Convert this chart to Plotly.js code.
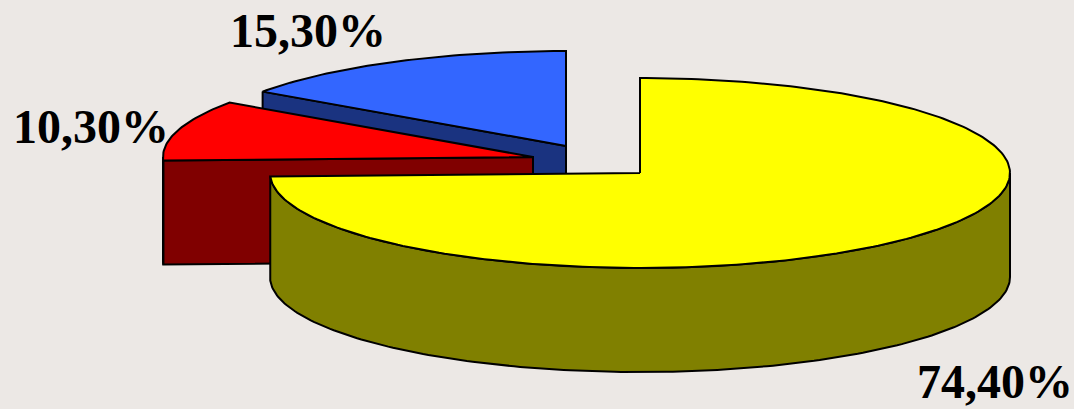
<!DOCTYPE html>
<html>
<head>
<meta charset="utf-8">
<script src="https://cdn.plot.ly/plotly-3.0.1.min.js"></script>
<style>html,body{margin:0;padding:0;background:#ECE8E5;overflow:hidden}#chart{width:1074px;height:409px}</style>
</head>
<body>
<div id="chart"></div>
<script>
// Data
const categories = ["yellow", "red", "blue"];
const shares = [74.4, 10.3, 15.3];

// Styles
const topColors = ["#FFFF00", "#FF0000", "#3366FF"];
const sideColors = ["#808000", "#800000", "#1A3380"];
const background = "#ECE8E5";

// Projection of the exploded 3D pie (in plot units)
const pieCentersX = [640, 533, 566];
const pieCentersY = [173, 157, 146];
const radiusX = 370, radiusY = 95, depth = 104;
const labelX = [915, 11, 228];
const labelY = [381, 126, 30];

function pt(i, turn, dz) {
  const a = turn * 2 * Math.PI;
  return [pieCentersX[i] + radiusX * Math.sin(a),
          pieCentersY[i] - radiusY * Math.cos(a) + (dz || 0)];
}
function arc(i, from, to, dz) {
  const out = [], n = Math.max(2, Math.ceil(Math.abs(to - from) * 360));
  for (let k = 0; k <= n; k++) out.push(pt(i, from + (to - from) * k / n, dz));
  return out;
}
function poly(points, fill) {
  const closed = points.concat([points[0]]);
  return {
    type: "scatter", mode: "lines", fill: "toself", fillcolor: fill,
    x: closed.map(p => p[0]), y: closed.map(p => p[1]),
    line: {color: "#000000", width: 2, shape: "linear"},
    hoverinfo: "skip", showlegend: false
  };
}

// cumulative start / end of each slice, clockwise from 12 o'clock
const total = shares.reduce((a, b) => a + b, 0);
const starts = [], ends = [];
let run = 0;
shares.forEach((v, i) => { starts[i] = run; run += v / total; ends[i] = run; });

const traces = [];
[2, 1, 0].forEach(i => {
  const c = [pieCentersX[i], pieCentersY[i]];
  const c2 = [c[0], c[1] + depth];
  // cut face at the start of the slice, which faces the viewer
  if (i !== 0) {
    traces.push(poly([pt(i, starts[i]), c, c2, pt(i, starts[i], depth)], sideColors[i]));
  }
  // outer wall: the part of the rim on the front half
  const from = Math.max(starts[i], 0.25), to = Math.min(ends[i], 0.75);
  if (to > from) {
    traces.push(poly(arc(i, from, to, 0).concat(arc(i, to, from, depth)), sideColors[i]));
  }
  // top
  traces.push(poly([c].concat(arc(i, starts[i], ends[i], 0)), topColors[i]));
});

const annotations = shares.map((v, i) => ({
  x: labelX[i], y: labelY[i], xref: "x", yref: "y",
  xanchor: "left", yanchor: "middle", showarrow: false,
  text: v.toFixed(2).replace(".", ",") + "%",
  font: {family: "Liberation Serif", size: 48, color: "#000000", weight: 700}
}));

Plotly.newPlot("chart", traces, {
  width: 1074, height: 409,
  margin: {l: 0, r: 0, t: 0, b: 0},
  paper_bgcolor: background, plot_bgcolor: background,
  xaxis: {range: [0, 1074], visible: false, fixedrange: true},
  yaxis: {range: [409, 0], visible: false, fixedrange: true},
  showlegend: false, annotations: annotations
}, {displayModeBar: false, staticPlot: true});
</script>
</body>
</html>
